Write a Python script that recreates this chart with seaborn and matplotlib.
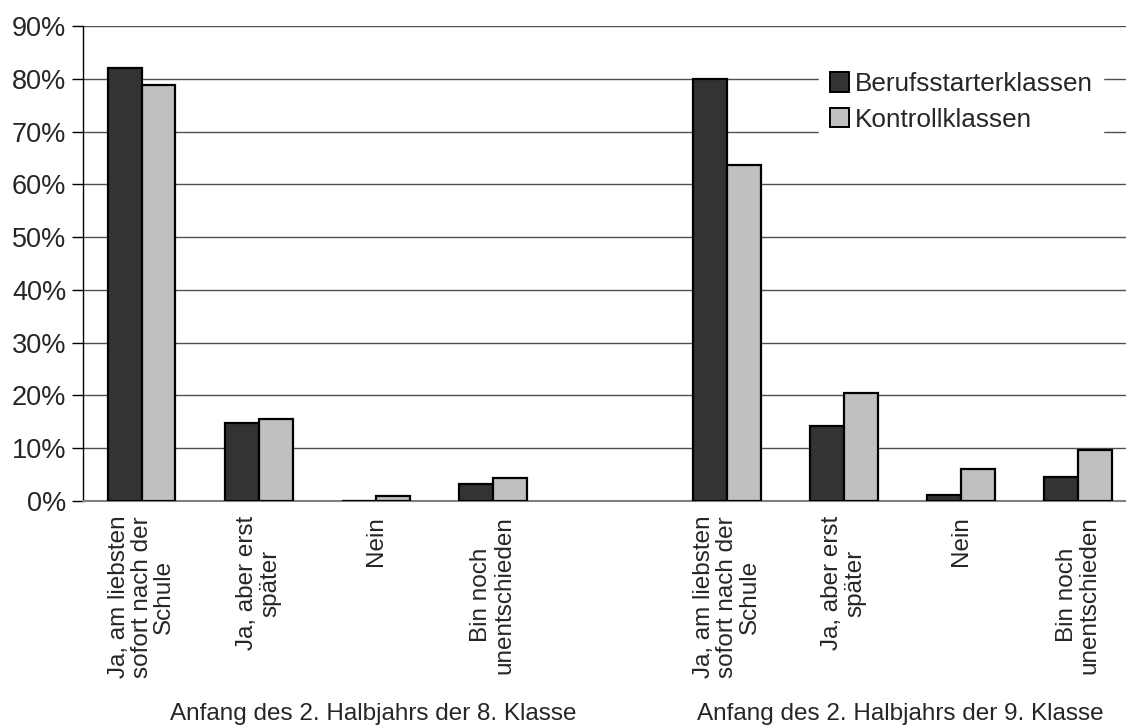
import pandas as pd
import seaborn as sns
import matplotlib.pyplot as plt
from matplotlib.patches import Patch

# Antworten (Kategorien) und Werte in Prozent
antworten = ['Ja, am liebsten\nsofort nach der\nSchule', 'Ja, aber erst\nspäter',
             'Nein', 'Bin noch\nunentschieden']
zeitpunkte = ['Anfang des 2. Halbjahrs der 8. Klasse',
              'Anfang des 2. Halbjahrs der 9. Klasse']
gruppen = ['Berufsstarterklassen', 'Kontrollklassen']

berufs_8 = [82.1, 14.7, 0.0, 3.2]
kontroll_8 = [78.9, 15.5, 1.0, 4.4]
berufs_9 = [80.0, 14.2, 1.1, 4.5]
kontroll_9 = [63.7, 20.4, 6.0, 9.6]

farben = ['#333333', '#c0c0c0']

# Positionen: 4 Antworten je Zeitpunkt, dazwischen eine Lücke
pos_8 = [0, 1, 2, 3]
pos_9 = [5, 6, 7, 8]

rows = []
for pos, b, k in [(pos_8, berufs_8, kontroll_8), (pos_9, berufs_9, kontroll_9)]:
    for p, vb, vk in zip(pos, b, k):
        rows.append({'x': p, 'gruppe': gruppen[0], 'wert': vb})
        rows.append({'x': p, 'gruppe': gruppen[1], 'wert': vk})
df = pd.DataFrame(rows)

sns.set_style('white')
plt.rcParams['font.family'] = ['Liberation Sans', 'DejaVu Sans']

fig = plt.figure(figsize=(11.26, 7.25), dpi=100)
ax = fig.add_axes([83 / 1126, 1 - 501 / 725, 1 - 83 / 1126, 475 / 725])

sns.barplot(data=df, x='x', y='wert', hue='gruppe', hue_order=gruppen,
            palette=farben, native_scale=True, width=0.58, dodge=True,
            edgecolor='black', linewidth=1.6, errorbar=None, legend=False,
            zorder=3, ax=ax)

ax.set_ylim(0, 90)
ax.set_xlim(-0.5, 8.41)
ax.set_yticks(range(0, 91, 10))
ax.set_yticklabels([f'{v}%' for v in range(0, 91, 10)], fontsize=19.5)
ax.yaxis.grid(True, color='#505050', linewidth=1.0, zorder=0)
ax.set_axisbelow(True)
ax.tick_params(axis='y', direction='out', length=8, width=1, color='black', left=True, pad=4)
ax.tick_params(axis='x', length=0)

ax.set_xticks(pos_8 + pos_9)
ax.set_xticklabels([])
for p, lab in zip(pos_8 + pos_9, antworten + antworten):
    ax.text(p, -2.8, lab, rotation=90, ha='center', va='top', multialignment='center',
            fontsize=17.5, linespacing=1.05, transform=ax.transData, clip_on=False)

ax.text(1.98, -0.461, zeitpunkte[0], ha='center', va='baseline', fontsize=17.5,
        transform=ax.get_xaxis_transform())
ax.text(6.48, -0.461, zeitpunkte[1], ha='center', va='baseline', fontsize=17.5,
        transform=ax.get_xaxis_transform())

ax.set_xlabel('')
ax.set_ylabel('')
for s in ['top', 'right']:
    ax.spines[s].set_visible(False)
ax.spines['left'].set_color('black')
ax.spines['left'].set_linewidth(1.0)
ax.spines['bottom'].set_color('#808080')
ax.spines['bottom'].set_linewidth(1.5)

handles = [Patch(facecolor=c, edgecolor='black', linewidth=1.4) for c in farben]
leg = ax.legend(handles, gruppen, loc='upper right', bbox_to_anchor=(0.978, 0.925),
                fontsize=18.8, frameon=True, fancybox=False, framealpha=1,
                edgecolor='white', handlelength=0.75, handleheight=0.75,
                handletextpad=0.2, labelspacing=0.45, borderpad=0.4, borderaxespad=0)
leg.set_zorder(5)

fig.savefig('out.png', dpi=100)
plt.close(fig)
